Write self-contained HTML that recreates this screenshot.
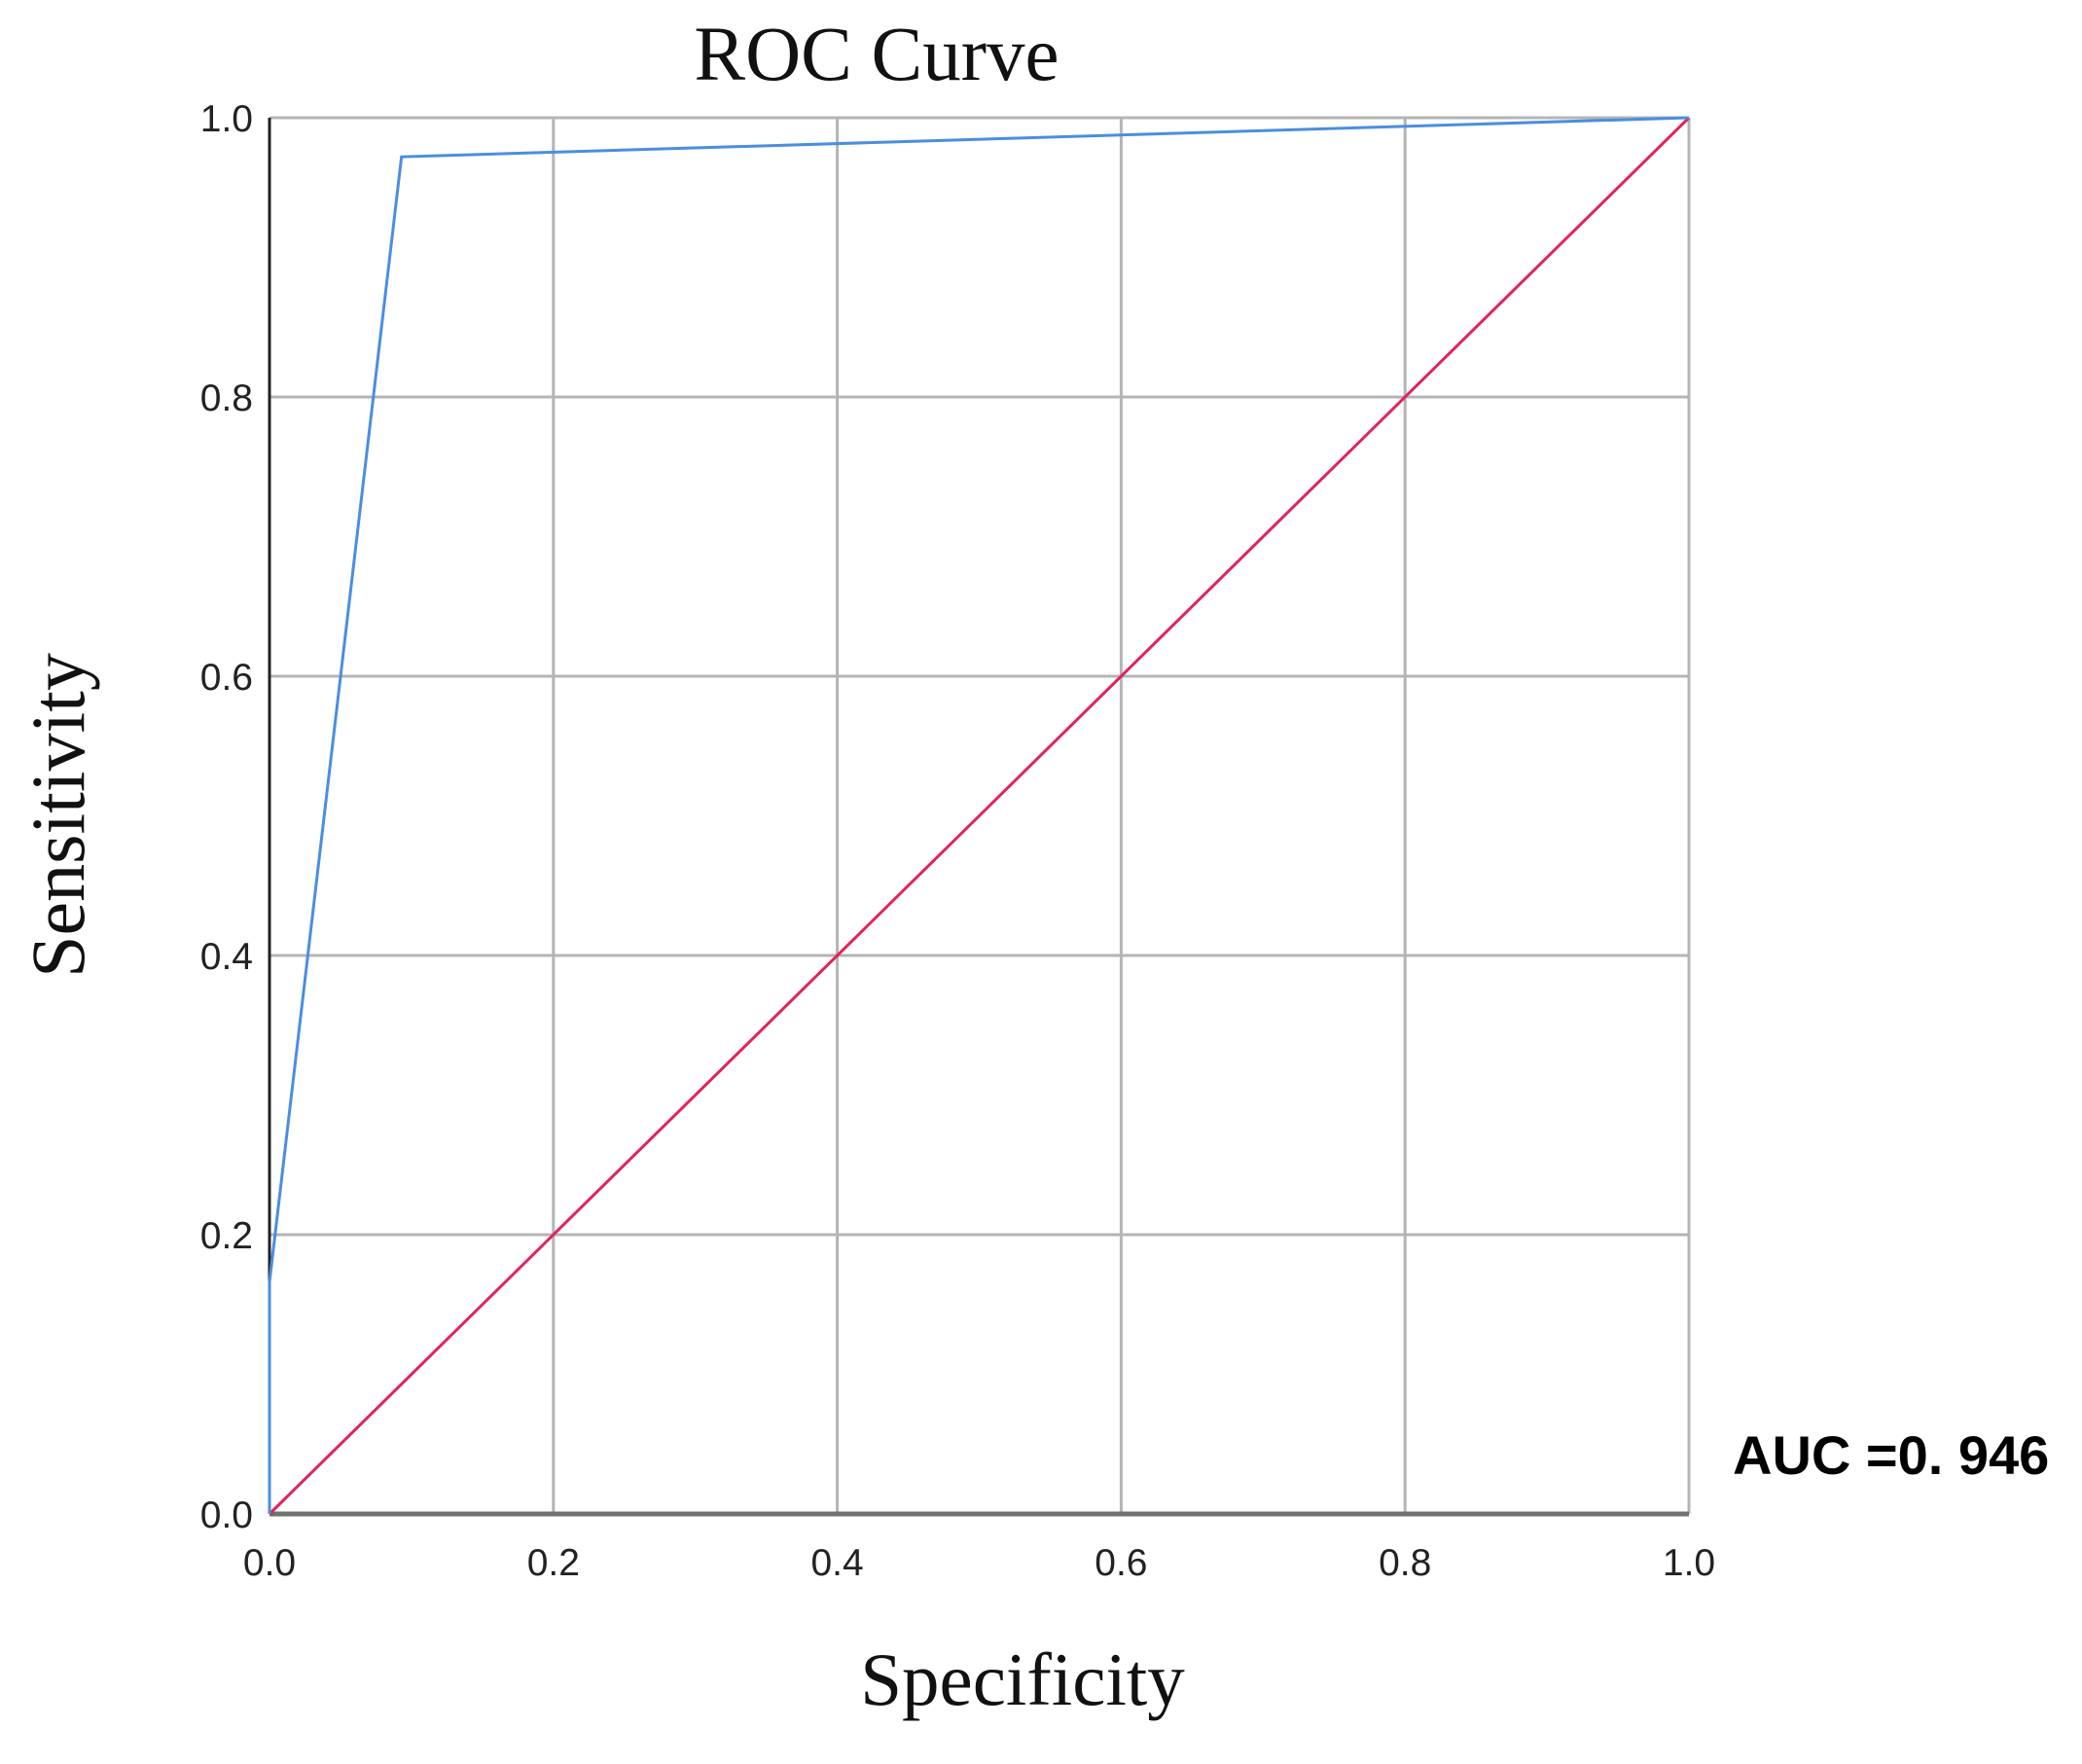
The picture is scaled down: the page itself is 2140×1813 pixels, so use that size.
<!DOCTYPE html>
<html><head><meta charset="utf-8"><style>
html,body{margin:0;padding:0;background:#fff;}
svg{display:block;}
</style></head><body>
<svg id="chart" width="2140" height="1813" viewBox="0 0 2140 1813" xmlns="http://www.w3.org/2000/svg">
<rect width="2140" height="1813" fill="#fff"/>
<text x="901" y="82" text-anchor="middle" font-family="Liberation Serif, serif" font-size="79" fill="#111">ROC Curve</text>
<text transform="translate(86,838) rotate(-90)" text-anchor="middle" font-family="Liberation Serif, serif" font-size="78" fill="#111">Sensitivity</text>
<text x="1051" y="1752" text-anchor="middle" font-family="Liberation Serif, serif" font-size="77" fill="#111">Specificity</text>
<text x="1781" y="1515" font-family="Liberation Sans, sans-serif" font-weight="bold" font-size="56" fill="#000">AUC =0. 946</text>
<g id="grid"></g>
<g id="series"></g>
<g id="ticks"></g>
</svg>
<script>
const xTicks = [0, 0.2, 0.4, 0.6, 0.8, 1.0];
const yTicks = [0, 0.2, 0.4, 0.6, 0.8, 1.0];
const tickLabels = ["0.0", "0.2", "0.4", "0.6", "0.8", "1.0"];
const rocFpr = [0, 0, 0.093, 1];
const rocTpr = [0, 0.166, 0.972, 1];
const refX = [0, 1];
const refY = [0, 1];

const L = 277, R = 1736, T = 121, B = 1556;
const sx = v => L + v * (R - L);
const sy = v => B - v * (B - T);
const NS = "http://www.w3.org/2000/svg";
const grid = document.getElementById('grid');
const ticks = document.getElementById('ticks');
const series = document.getElementById('series');
function mk(tag, attrs, parent){ const e = document.createElementNS(NS, tag); for (const k in attrs) e.setAttribute(k, attrs[k]); parent.appendChild(e); return e; }

xTicks.forEach((v, i) => {
  const g = mk('line', {x1: sx(v), x2: sx(v), y1: T, y2: B, stroke: '#b4b4b4', 'stroke-width': 3}, grid);
  
  
  const t = mk('text', {x: sx(v), y: 1619, 'text-anchor': 'middle', 'font-family': 'Liberation Sans, DejaVu Sans, sans-serif', 'font-size': 39, fill: '#222'}, ticks);
  t.textContent = tickLabels[i];
  
  
});
yTicks.forEach((v, i) => {
  const g = mk('line', {x1: L, x2: R, y1: sy(v), y2: sy(v), stroke: '#b4b4b4', 'stroke-width': 3}, grid);
  
  
  const t = mk('text', {x: 260, y: sy(v) + 14, 'text-anchor': 'end', 'font-family': 'Liberation Sans, DejaVu Sans, sans-serif', 'font-size': 39, fill: '#222'}, ticks);
  t.textContent = tickLabels[i];
  
  
});
const xa = mk('line', {x1: L, x2: R, y1: B, y2: B, stroke: '#707070', 'stroke-width': 5}, grid);


const ya = mk('line', {x1: L, x2: L, y1: T, y2: B, stroke: '#222', 'stroke-width': 3}, grid);



const refPts = refX.map((v, i) => sx(v) + ',' + sy(refY[i])).join(' ');
const ref = mk('polyline', {points: refPts, fill: 'none', stroke: '#e0245a', 'stroke-width': 3}, series);


const rocPts = rocFpr.map((v, i) => sx(v) + ',' + sy(rocTpr[i])).join(' ');
const roc = mk('polyline', {points: rocPts, fill: 'none', stroke: '#4a8ee0', 'stroke-width': 3}, series);


</script>
</body></html>
